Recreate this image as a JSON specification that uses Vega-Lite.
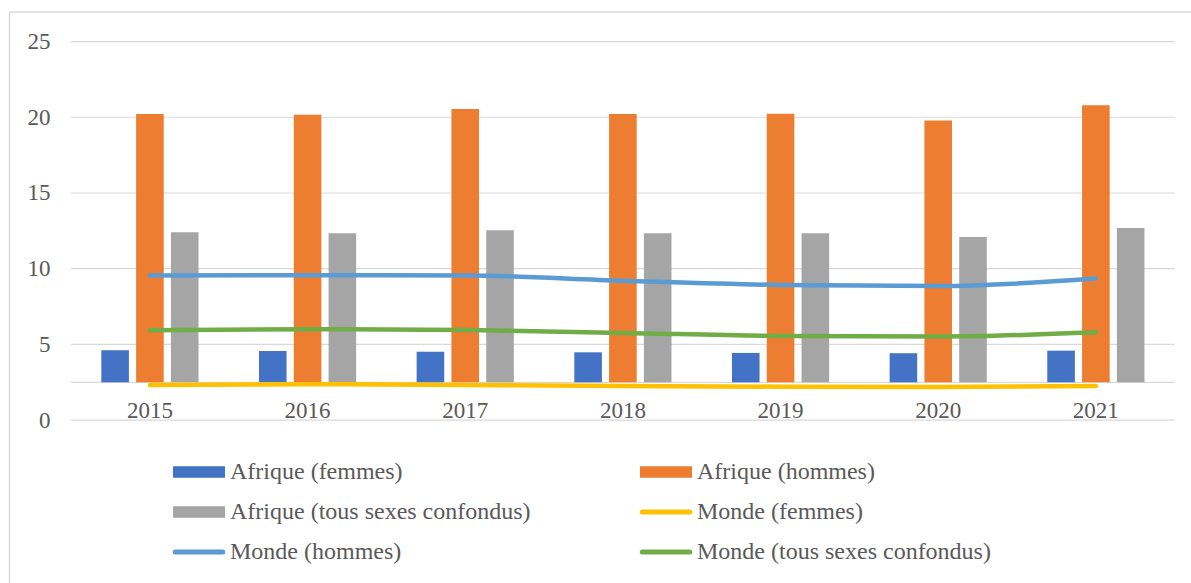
{
  "$schema": "https://vega.github.io/schema/vega-lite/v6.json",
  "width": 1182,
  "height": 571,
  "autosize": {"type": "none"},
  "padding": {"left": 9, "top": 12, "right": 0, "bottom": 0},
  "config": {"view": {"stroke": null}, "font": "Liberation Serif, Times New Roman, DejaVu Serif, serif"},
  "datasets": {
    "rates": [
      {"year": "2015", "series": "Afrique (femmes)", "value": 4.62},
      {"year": "2016", "series": "Afrique (femmes)", "value": 4.57},
      {"year": "2017", "series": "Afrique (femmes)", "value": 4.52},
      {"year": "2018", "series": "Afrique (femmes)", "value": 4.48},
      {"year": "2019", "series": "Afrique (femmes)", "value": 4.44},
      {"year": "2020", "series": "Afrique (femmes)", "value": 4.42},
      {"year": "2021", "series": "Afrique (femmes)", "value": 4.59},
      {"year": "2015", "series": "Afrique (hommes)", "value": 20.22},
      {"year": "2016", "series": "Afrique (hommes)", "value": 20.16},
      {"year": "2017", "series": "Afrique (hommes)", "value": 20.55},
      {"year": "2018", "series": "Afrique (hommes)", "value": 20.22},
      {"year": "2019", "series": "Afrique (hommes)", "value": 20.24},
      {"year": "2020", "series": "Afrique (hommes)", "value": 19.78},
      {"year": "2021", "series": "Afrique (hommes)", "value": 20.8},
      {"year": "2015", "series": "Afrique (tous sexes confondus)", "value": 12.41},
      {"year": "2016", "series": "Afrique (tous sexes confondus)", "value": 12.34},
      {"year": "2017", "series": "Afrique (tous sexes confondus)", "value": 12.54},
      {"year": "2018", "series": "Afrique (tous sexes confondus)", "value": 12.34},
      {"year": "2019", "series": "Afrique (tous sexes confondus)", "value": 12.34},
      {"year": "2020", "series": "Afrique (tous sexes confondus)", "value": 12.1},
      {"year": "2021", "series": "Afrique (tous sexes confondus)", "value": 12.69},
      {"year": "2015", "series": "Monde (femmes)", "value": 2.33},
      {"year": "2016", "series": "Monde (femmes)", "value": 2.37},
      {"year": "2017", "series": "Monde (femmes)", "value": 2.33},
      {"year": "2018", "series": "Monde (femmes)", "value": 2.26},
      {"year": "2019", "series": "Monde (femmes)", "value": 2.21},
      {"year": "2020", "series": "Monde (femmes)", "value": 2.19},
      {"year": "2021", "series": "Monde (femmes)", "value": 2.26},
      {"year": "2015", "series": "Monde (hommes)", "value": 9.55},
      {"year": "2016", "series": "Monde (hommes)", "value": 9.57},
      {"year": "2017", "series": "Monde (hommes)", "value": 9.56},
      {"year": "2018", "series": "Monde (hommes)", "value": 9.21},
      {"year": "2019", "series": "Monde (hommes)", "value": 8.93},
      {"year": "2020", "series": "Monde (hommes)", "value": 8.86},
      {"year": "2021", "series": "Monde (hommes)", "value": 9.35},
      {"year": "2015", "series": "Monde (tous sexes confondus)", "value": 5.94},
      {"year": "2016", "series": "Monde (tous sexes confondus)", "value": 6.0},
      {"year": "2017", "series": "Monde (tous sexes confondus)", "value": 5.95},
      {"year": "2018", "series": "Monde (tous sexes confondus)", "value": 5.76},
      {"year": "2019", "series": "Monde (tous sexes confondus)", "value": 5.56},
      {"year": "2020", "series": "Monde (tous sexes confondus)", "value": 5.52},
      {"year": "2021", "series": "Monde (tous sexes confondus)", "value": 5.8}
    ],
    "gridvals": [{"g": 0}, {"g": 2.5}, {"g": 5}, {"g": 10}, {"g": 15}, {"g": 20}, {"g": 25}]
  },
  "layer": [
    {
      "data": {"name": "gridvals"},
      "mark": {"type": "rule", "color": "#d9d9d9", "strokeWidth": 1.2},
      "encoding": {
        "x": {"datum": "2015", "type": "ordinal", "bandPosition": 0,
          "scale": {"domain": ["2015","2016","2017","2018","2019","2020","2021"], "paddingInner": 0, "paddingOuter": 0.2486, "align": 0.792},
          "axis": {"title": null, "domain": false, "ticks": false, "grid": false, "labelPadding": -173, "labelBaseline": "middle", "labelFontSize": 23, "labelColor": "#595959", "labelFont": "Liberation Serif, Times New Roman, DejaVu Serif, serif", "labelAngle": 0}},
        "x2": {"datum": "2021", "bandPosition": 1},
        "y": {"field": "g", "type": "quantitative",
          "scale": {"domain": [-10.75, 26.95], "nice": false, "zero": false},
          "axis": {"title": null, "values": [0, 5, 10, 15, 20, 25], "grid": false, "ticks": false, "domain": true, "domainColor": "#d9d9d9", "domainWidth": 1.5, "labelPadding": -41, "labelFontSize": 23, "labelColor": "#595959", "labelFont": "Liberation Serif, Times New Roman, DejaVu Serif, serif"}}
      }
    },
    {
      "data": {"values": [{"b": 26.95}]},
      "mark": {"type": "rule", "color": "#d9d9d9", "strokeWidth": 1.5},
      "encoding": {"y": {"field": "b", "type": "quantitative"}}
    },
    {
      "data": {"name": "rates"},
      "transform": [{"filter": {"field": "series", "oneOf": ["Afrique (femmes)", "Afrique (hommes)", "Afrique (tous sexes confondus)"]}}],
      "mark": {"type": "bar"},
      "encoding": {
        "x": {"field": "year", "type": "ordinal"},
        "xOffset": {"field": "series", "type": "nominal",
          "scale": {"domain": ["Afrique (femmes)", "Afrique (hommes)", "Afrique (tous sexes confondus)"], "paddingInner": 0.207, "paddingOuter": 0.869}},
        "y": {"field": "value", "type": "quantitative"},
        "y2": {"datum": 2.5},
        "color": {"field": "series", "type": "nominal",
          "scale": {"domain": ["Afrique (femmes)", "Afrique (hommes)", "Afrique (tous sexes confondus)", "Monde (femmes)", "Monde (hommes)", "Monde (tous sexes confondus)"],
                    "range": ["#4472C4", "#ED7D31", "#A5A5A5", "#FFC000", "#5B9BD5", "#70AD47"]},
          "legend": {
            "title": null, "orient": "none", "legendX": 178, "legendY": 448, "columns": 2, "direction": "horizontal", "padding": 0,
            "symbolSize": 100, "labelFont": "Liberation Serif, Times New Roman, DejaVu Serif, serif", "labelFontSize": 24, "labelColor": "#595959",
            "labelOffset": 19, "labelLimit": 500, "rowPadding": 16, "columnPadding": 101,
            "encode": {"symbols": {"update": {
              "shape": {"signal": "substring(datum.value, 0, 5) === 'Monde' ? 'M-4.75,0H4.75' : 'M-5.2,-1.15H5.2V1.15H-5.2Z'"},
              "strokeWidth": {"signal": "substring(datum.value, 0, 5) === 'Monde' ? 5 : 0"},
              "strokeCap": {"value": "round"}
            }}}
          }}
      }
    },
    {
      "data": {"name": "rates"},
      "transform": [{"filter": {"field": "series", "oneOf": ["Monde (femmes)", "Monde (hommes)", "Monde (tous sexes confondus)"]}}],
      "mark": {"type": "line", "strokeWidth": 4.5, "strokeCap": "round", "interpolate": "monotone"},
      "encoding": {
        "x": {"field": "year", "type": "ordinal"},
        "y": {"field": "value", "type": "quantitative"},
        "color": {"field": "series", "type": "nominal"}
      }
    }
  ]
}
